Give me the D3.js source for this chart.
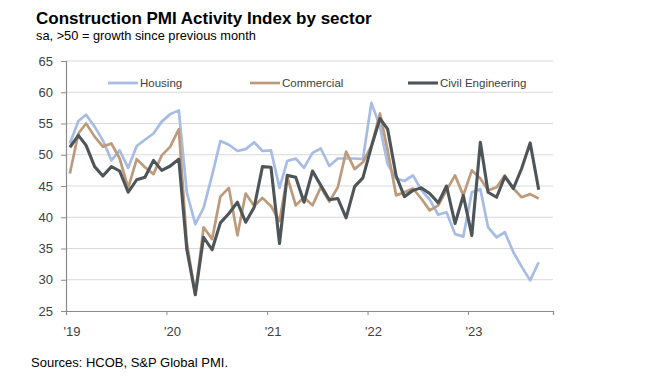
<!DOCTYPE html>
<html>
<head>
<meta charset="utf-8">
<script src="https://cdn.jsdelivr.net/npm/d3@7"></script>
<style>
  html, body { margin: 0; padding: 0; background: #fff; }
  svg { display: block; font-family: "Liberation Sans", Arial, sans-serif; }
</style>
</head>
<body>
<svg id="chart" width="658" height="388"></svg>
<script>
// Monthly readings, Jan 2019 .. Sep 2023
var months = d3.timeMonth.range(new Date(2019, 0, 1), new Date(2023, 9, 1));

var housing = [
    51.8, 55.4, 56.4, 54.5, 52.3, 49.1, 50.7, 47.9, 51.4, 52.4, 53.4, 55.3,
    56.5, 57.1, 44.0, 38.9, 41.5, 46.7, 52.2, 51.6, 50.6, 50.9, 52.0, 50.6,
    50.7, 44.7, 49.0, 49.4, 47.9, 50.3, 51.0, 48.2, 49.4, 49.4, 49.4, 49.3,
    58.3, 54.5, 48.5, 46.2, 45.8, 46.7, 44.4, 42.8, 40.4, 40.8, 37.3, 36.9,
    44.0, 44.5, 38.4, 36.8, 37.6, 34.4, 32.1, 29.9, 32.8
];
var commercial = [
    47.0, 53.4, 55.0, 52.9, 51.3, 51.8, 49.4, 44.7, 49.3, 48.0, 46.9, 49.9,
    51.3, 54.1, 36.0, 27.6, 38.4, 36.5, 43.3, 44.7, 37.1, 43.8, 41.8, 43.1,
    41.8, 39.4, 46.5, 41.9, 43.2, 41.9, 44.8, 42.5, 44.8, 50.5, 47.7, 48.8,
    51.4, 56.6, 50.7, 43.5, 44.0, 44.6, 43.0, 41.1, 41.9, 44.3, 46.7, 43.5,
    47.5, 46.2, 44.3, 44.8, 46.7, 44.6, 43.2, 43.7, 43.0
];
var civil = [
    51.2, 53.1, 51.5, 48.1, 46.6, 48.1, 47.4, 44.0, 46.0, 46.4, 49.1, 47.5,
    48.2, 49.3, 34.9, 27.6, 36.8, 34.8, 39.1, 40.6, 42.4, 39.2, 41.6, 48.1,
    48.0, 35.8, 46.7, 46.4, 42.4, 47.4, 45.1, 42.8, 43.0, 39.9, 44.9, 46.3,
    51.3, 55.8, 54.1, 46.6, 43.3, 44.3, 44.7, 43.8, 42.3, 45.0, 39.0, 43.5,
    37.1, 52.0, 44.0, 43.2, 46.5, 44.6, 47.8, 51.9, 44.4
];

var yTicks = [25, 30, 35, 40, 45, 50, 55, 60, 65];
var yearTicks = [2019, 2020, 2021, 2022, 2023];
var yearLabels = ["'19", "'20", "'21", "'22", "'23"];

var seriesNames = ["Housing", "Commercial", "Civil Engineering"];
var seriesData = [housing, commercial, civil];
var seriesColors = ["#a7bce4", "#bd9a7b", "#4e5559"];
var seriesWidths = [2.7, 2.7, 3.1];

window.addEventListener("load", init, false);

function init() {
    var svg = d3.select("#chart");

    var left = 66, right = 553, top = 61, bottom = 311;

    var x = d3.scaleTime()
        .domain([new Date(2019, 0, 1), new Date(2023, 10, 6)])
        .range([left, right]);
    var y = d3.scaleLinear()
        .domain([25, 65])
        .range([bottom, top]);

    // titles
    svg.append("text")
        .attr("x", 36).attr("y", 24)
        .style("font-size", "17px").style("font-weight", "bold")
        .style("fill", "#000")
        .text("Construction PMI Activity Index by sector");
    svg.append("text")
        .attr("x", 36).attr("y", 40)
        .style("font-size", "12.8px").style("fill", "#000")
        .text("sa, >50 = growth since previous month");

    // gridlines
    svg.append("g").selectAll("line")
        .data(yTicks.filter(d => d > 25))
        .enter().append("line")
        .attr("x1", left).attr("x2", right)
        .attr("y1", d => y(d)).attr("y2", d => y(d))
        .style("stroke", "#d9d9d9").style("stroke-width", 1.2);

    // y axis
    var yAxis = svg.append("g")
        .attr("transform", `translate(${left},0)`)
        .call(d3.axisLeft(y).tickValues(yTicks).tickSize(5).tickPadding(8));
    yAxis.select(".domain").style("stroke", "#8c8c8c").style("stroke-width", 1.2);
    yAxis.selectAll(".tick line").style("stroke", "#8c8c8c");
    yAxis.selectAll(".tick text")
        .style("font-size", "13px").style("fill", "#404040")
        .style("font-family", "'Liberation Sans', Arial, sans-serif");

    // x axis
    var xAxis = svg.append("g")
        .attr("transform", `translate(0,${bottom})`)
        .call(d3.axisBottom(x)
            .tickValues(yearTicks.map(yr => new Date(yr, 0, 1)))
            .tickFormat((d, i) => yearLabels[i])
            .tickSize(4).tickPadding(12));
    xAxis.select(".domain").style("stroke", "#8c8c8c").style("stroke-width", 1.2);
    xAxis.selectAll(".tick line").style("stroke", "#8c8c8c");
    xAxis.selectAll(".tick text")
        .attr("text-anchor", "start").attr("dx", -3)
        .style("font-size", "13px").style("fill", "#404040")
        .style("font-family", "'Liberation Sans', Arial, sans-serif");

    // series lines, points placed mid-month
    var line = d3.line()
        .x((d, i) => x(d3.timeDay.offset(months[i], 14)))
        .y(d => y(d));

    seriesData.forEach(function(vals, k) {
        svg.append("path")
            .datum(vals)
            .attr("d", line)
            .style("fill", "none")
            .style("stroke", seriesColors[k])
            .style("stroke-width", seriesWidths[k])
            .style("stroke-linejoin", "round");
    });

    // legend
    var legendX = [108, 250, 408];
    var legend = svg.append("g").selectAll("g")
        .data(seriesNames)
        .enter().append("g")
        .attr("transform", (d, i) => `translate(${legendX[i]},87)`);
    legend.append("line")
        .attr("x1", 0).attr("x2", 30)
        .attr("y1", -4).attr("y2", -4)
        .style("stroke", (d, i) => seriesColors[i])
        .style("stroke-width", (d, i) => seriesWidths[i]);
    legend.append("text")
        .attr("x", 32).attr("y", 0)
        .style("font-size", "11.5px").style("fill", "#404040")
        .text(d => d);

    // source
    svg.append("text")
        .attr("x", 31).attr("y", 367)
        .style("font-size", "13px").style("fill", "#000")
        .text("Sources: HCOB, S&P Global PMI.");
}
</script>
</body>
</html>
